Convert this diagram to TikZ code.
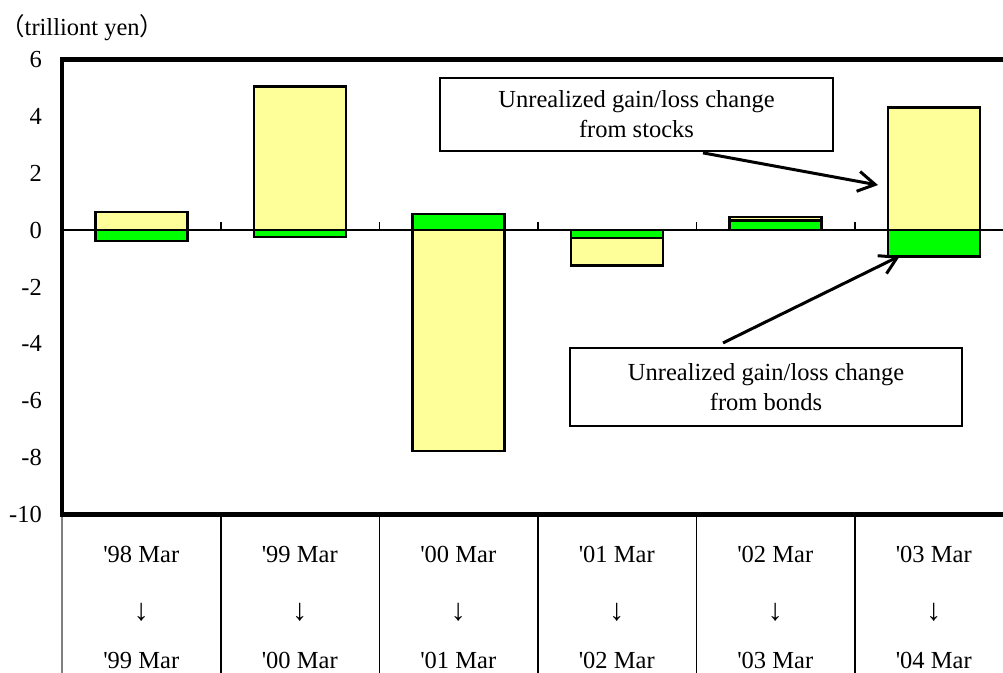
\documentclass[tikz,border=0pt]{standalone}
\usepackage{fontspec}
\setmainfont{Liberation Serif}
\newfontfamily\cjk{Noto Sans CJK JP}
\usepackage{tikz}
\usetikzlibrary{arrows.meta,positioning,calc}
\definecolor{stockyellow}{HTML}{FFFF99}
\definecolor{bondgreen}{HTML}{00FF00}
\newcommand{\yr}[1]{\textquotesingle#1 Mar}
\tikzset{
	barbox/.style = {draw=black, line width=2.5pt},
	callout/.style = {draw=black, line width=1.8pt, fill=white, align=center, inner sep=0pt},
	pointer/.style = {-{Straight Barb[length=17pt,width=20pt]}, line width=3pt},
	gridline/.style = {line width=1.2pt}
}

\begin{document}
\begin{tikzpicture}[x=1pt, y=28.45pt, font=\fontsize{24.5}{30}\selectfont]
		\useasboundingbox (0,8.084) rectangle (1003,-15.57);
		\clip (0,8.084) rectangle (1003,-15.57);
		\node [anchor=west, inner sep=0pt](unit) at (0,7.1) {{\cjk （}trilliont yen{\cjk ）}};
		\foreach \v in {6,4,...,-10}
			\node [anchor=east, inner sep=0pt](tick\v) at (42,\v) {\v};
		\draw [gridline] (62,0) -- (1010,0);
		\foreach \x in {221,379.5,538,696.5,855}
			\draw [gridline] (\x,0) -- (\x,0.28);
		\foreach \c/\ya/\yb/\ga/\gb in {141.25/0/0.63/0/-0.38, 299.75/0/5.05/0/-0.25, 458.25/0/-7.76/0/0.56, 616.75/-0.28/-1.25/0/-0.28, 775.25/0.33/0.45/0/0.33, 933.75/0/4.3/0/-0.94}
		{
			\draw [barbox, fill=stockyellow] (\c-46,\ya) rectangle (\c+46,\yb);
			\draw [barbox, fill=bondgreen] (\c-46,\ga) rectangle (\c+46,\gb);
		}
		\draw [line width=4.5pt] (62,-10) rectangle (1030,6);
		\draw [gridline, gray] (62,-10.1) -- (62,-15.6);
		\foreach \x in {221,379.5,538,696.5,855}
			\draw [gridline] (\x,-10.1) -- (\x,-15.6);
		\foreach \c/\a/\b in {141.25/98/99, 299.75/99/00, 458.25/00/01, 616.75/01/02, 775.25/02/03, 933.75/03/04}
		{
			\node [](from\a) at (\c,-11.42) {\yr{\a}};
			\node [scale=1.25](arr\a) at (\c,-13.43) {↓};
			\node [](to\a) at (\c,-15.12) {\yr{\b}};
		}
		\node [callout, minimum width=393pt, minimum height=73pt](stocks) at (636.5,4.06) {Unrealized gain/loss change\\from stocks};
		\node [callout, minimum width=392pt, minimum height=78pt](bonds) at (766,-5.52) {Unrealized gain/loss change\\from bonds};
		\coordinate (stocksTail) at (703,2.71);
		\coordinate (stocksHead) at (878,1.58);
		\coordinate (bondsTail) at (723,-3.97);
		\coordinate (bondsHead) at (900,-0.91);
		\draw [pointer] (stocksTail) -- (stocksHead);
		\draw [pointer] (bondsTail) -- (bondsHead);
\end{tikzpicture}
\end{document}
